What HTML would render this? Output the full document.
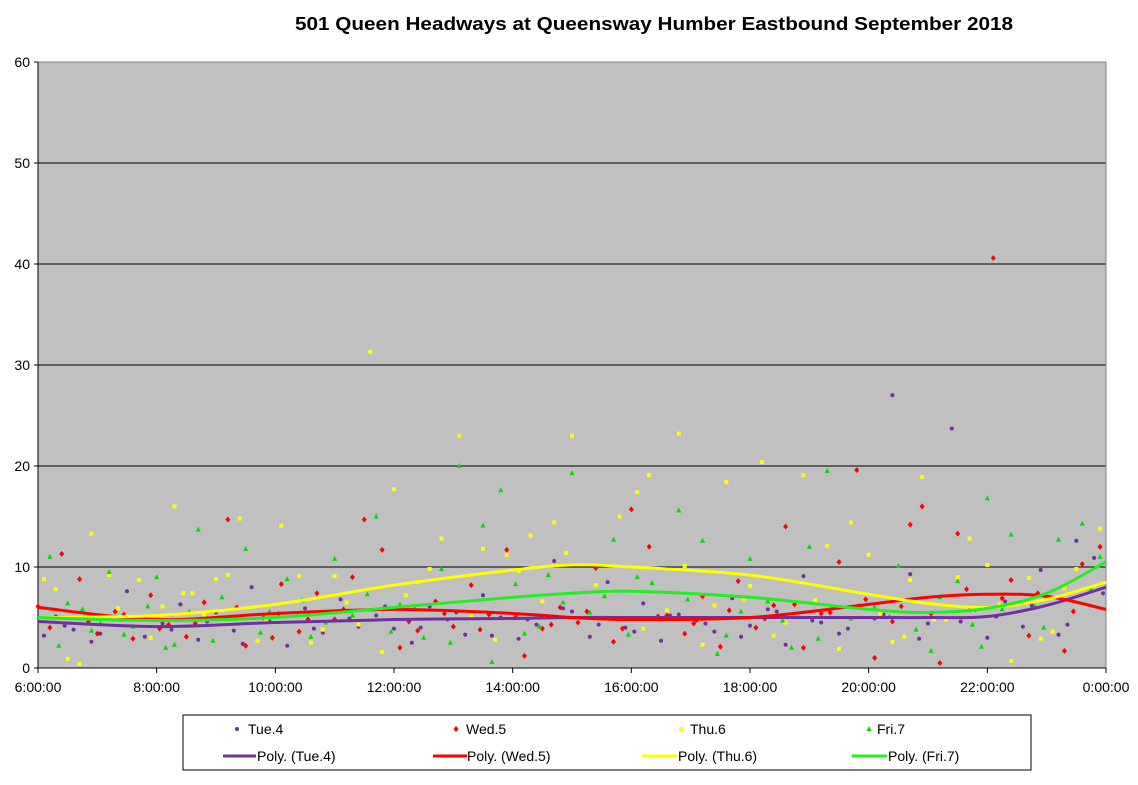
<!DOCTYPE html>
<html><head><meta charset="utf-8"><style>
body{margin:0;background:#fff;}
svg text{font-family:"Liberation Sans",Arial,sans-serif;}
</style></head><body>
<svg id="chart" width="1138" height="780" xmlns="http://www.w3.org/2000/svg">
<rect x="0" y="0" width="1138" height="780" fill="#fff"/>
<text x="654" y="30" text-anchor="middle" font-size="18" font-weight="bold" textLength="718" lengthAdjust="spacingAndGlyphs">501 Queen Headways at Queensway Humber Eastbound September 2018</text>
<rect x="38" y="62" width="1068" height="606" fill="#c0c0c0"/>
<g id="grid"></g>
<g id="axes"></g>
<g id="points"></g>
<g id="trends"></g>
<g>
<rect x="183" y="715" width="848" height="55" fill="#fff" stroke="#000" stroke-width="1"/>
<circle cx="237" cy="729" r="2" fill="#7030a0"/>
<text x="248" y="734" font-size="14">Tue.4</text>
<path d="M456,726 l2.5,3 l-2.5,3 l-2.5,-3z" fill="#ff0000"/>
<text x="466" y="734" font-size="14">Wed.5</text>
<rect x="679" y="727" width="4" height="4" fill="#ffff00"/>
<text x="690" y="734" font-size="14">Thu.6</text>
<path d="M869,726 l2.5,5 l-5,0z" fill="#00dd00"/>
<text x="877" y="734" font-size="14">Fri.7</text>
<line x1="223" y1="756" x2="256" y2="756" stroke="#7030a0" stroke-width="3"/>
<text x="257" y="761" font-size="14">Poly. (Tue.4)</text>
<line x1="433" y1="756" x2="467" y2="756" stroke="#ff0000" stroke-width="3"/>
<text x="467" y="761" font-size="14">Poly. (Wed.5)</text>
<line x1="642" y1="756" x2="677" y2="756" stroke="#ffff00" stroke-width="3"/>
<text x="678" y="761" font-size="14">Poly. (Thu.6)</text>
<line x1="852" y1="756" x2="887" y2="756" stroke="#22ee22" stroke-width="3"/>
<text x="888" y="761" font-size="14">Poly. (Fri.7)</text>
</g>
</svg>
<script>
const yTicks=[0,10,20,30,40,50,60];
const xTickLabels=["6:00:00","8:00:00","10:00:00","12:00:00","14:00:00","16:00:00","18:00:00","20:00:00","22:00:00","0:00:00"];
const xTickHours=[6,8,10,12,14,16,18,20,22,24];
const tueT=[6.1,6.3,6.6,6.9,7.2,7.5,7.8,8.1,8.4,8.7,9.0,9.3,9.6,9.9,10.2,10.5,10.8,11.1,11.4,11.7,12.0,12.3,12.6,12.9,13.2,13.5,13.8,14.1,14.4,14.7,15.0,15.3,15.6,15.9,16.2,16.5,16.8,17.1,17.4,17.7,18.0,18.3,18.6,18.9,19.2,19.5,19.8,20.1,20.4,20.7,21.0,21.4,21.7,22.0,22.3,22.6,22.9,23.2,23.5,23.8,6.45,7.05,7.65,8.25,8.85,9.45,10.05,10.65,11.25,11.85,12.45,13.05,13.65,14.25,14.85,15.45,16.05,16.65,17.25,17.85,18.45,19.05,19.65,20.25,20.85,21.55,22.15,22.75,23.35,23.95];
const tueV=[3.2,5.1,3.8,2.6,4.9,7.6,3.1,4.4,6.3,2.8,5.5,3.7,8.0,4.6,2.2,5.9,3.5,6.8,4.1,5.2,3.9,2.5,6.1,4.8,3.3,7.2,5.0,2.9,4.3,10.6,5.6,3.1,8.5,4.0,6.4,2.7,5.3,4.7,3.6,6.9,4.2,5.8,2.3,9.1,4.5,3.4,6.0,4.9,27.0,9.3,4.4,23.7,5.7,3.0,6.6,4.1,9.7,3.3,12.6,10.9,4.2,3.4,5.0,3.8,4.6,2.4,5.4,3.9,4.9,6.1,4.0,5.5,3.2,4.8,5.9,4.3,3.6,5.2,4.4,3.1,5.6,4.7,3.9,5.3,2.9,4.6,5.1,6.2,4.3,7.4];
const wedT=[6.0,6.4,6.7,7.0,7.3,7.6,7.9,8.2,8.5,8.8,9.2,9.5,9.8,10.1,10.4,10.7,11.0,11.3,11.5,11.8,12.1,12.4,12.7,13.0,13.3,13.6,13.9,14.2,14.5,14.8,15.1,15.4,15.7,16.0,16.3,16.6,16.9,17.2,17.5,17.8,18.1,18.4,18.6,18.9,19.2,19.5,19.8,20.1,20.4,20.7,20.9,21.2,21.5,21.8,22.1,22.4,22.7,23.0,23.3,23.6,23.9,6.2,6.85,7.45,8.05,8.65,9.35,9.95,10.55,11.15,12.25,12.85,13.45,14.05,14.65,15.25,15.85,16.45,17.05,17.65,18.25,18.75,19.35,19.95,20.55,21.05,21.65,22.25,22.85,23.45];
const wedV=[6.1,11.3,8.8,3.4,5.6,2.9,7.2,4.3,3.1,6.5,14.7,2.2,5.0,8.3,3.6,7.4,4.8,9.0,14.7,11.7,2.0,3.7,6.6,4.1,8.2,5.3,11.7,1.2,3.9,6.0,4.5,9.9,2.6,15.7,12.0,5.2,3.4,7.1,2.1,8.6,4.0,6.2,14.0,2.0,5.4,10.5,19.6,1.0,4.6,14.2,16.0,0.5,13.3,5.8,40.6,8.7,3.2,6.9,1.7,10.3,12.0,4.0,4.6,5.3,3.9,4.4,6.0,3.0,4.8,5.8,4.6,5.4,3.8,5.0,4.3,5.6,3.9,5.1,4.4,5.7,4.9,6.3,5.5,6.8,6.1,5.4,7.8,6.9,7.4,5.6];
const thuT=[6.1,6.5,6.9,7.2,7.5,7.9,8.3,8.6,9.0,9.4,9.7,10.1,10.4,10.8,11.2,11.6,12.0,12.4,12.8,13.1,13.5,13.9,14.3,14.7,15.0,15.4,15.8,16.1,16.3,16.6,16.8,17.2,17.6,17.9,18.2,18.6,18.9,19.3,19.7,20.0,20.4,20.7,20.9,21.3,21.7,22.0,22.4,22.7,23.1,23.5,23.9,6.3,6.7,7.35,7.7,8.1,8.45,8.8,9.2,9.85,10.6,11.0,11.4,11.8,12.2,12.6,13.3,13.7,14.1,14.5,14.9,15.6,16.2,16.9,17.4,18.0,18.4,19.1,19.5,20.2,20.6,21.1,21.5,22.2,22.9,23.3];
const thuV=[8.8,0.9,13.3,9.2,5.1,3.0,16.0,7.4,8.8,14.8,2.7,14.1,9.1,3.8,6.5,31.3,17.7,8.5,12.8,23.0,11.8,11.2,13.1,14.4,23.0,8.2,15.0,17.4,19.1,5.7,23.2,2.3,18.4,6.8,20.4,4.5,19.1,12.1,14.4,11.2,2.6,8.7,18.9,4.8,12.8,10.2,0.7,8.9,3.6,9.8,13.8,7.8,0.4,5.9,8.7,6.1,7.4,5.3,9.2,4.7,2.5,9.1,4.3,1.6,7.2,9.8,5.2,2.8,9.6,6.6,11.4,7.6,3.9,10.1,6.2,8.1,3.2,6.7,1.9,5.4,3.1,4.8,9.0,6.3,2.9,7.9];
const friT=[6.2,6.5,6.9,7.2,7.6,8.0,8.3,8.7,9.1,9.5,9.9,10.2,10.6,11.0,11.3,11.7,12.1,12.5,12.8,13.1,13.5,13.8,14.2,14.6,15.0,15.3,15.7,16.1,16.5,16.8,17.2,17.6,18.0,18.3,18.7,19.0,19.3,19.7,20.1,20.5,20.8,21.2,21.5,21.9,22.0,22.4,22.8,23.2,23.6,23.9,6.35,6.75,7.05,7.45,7.85,8.15,8.55,8.95,9.35,9.75,10.45,10.85,11.55,11.95,12.35,12.95,13.65,14.05,14.45,14.85,15.55,15.95,16.35,16.95,17.45,17.85,18.55,19.15,19.85,20.35,21.05,21.75,22.25,22.95,23.75];
const friV=[11.0,6.4,3.7,9.5,4.1,9.0,2.3,13.7,7.0,11.8,5.6,8.8,3.1,10.8,5.2,15.0,6.3,3.0,9.8,20.0,14.1,17.6,3.4,9.2,19.3,5.5,12.7,9.0,4.8,15.6,12.6,3.2,10.8,6.6,2.0,12.0,19.5,4.9,6.0,10.1,3.8,7.0,8.6,2.1,16.8,13.2,6.1,12.7,14.3,11.0,2.2,5.8,4.4,3.3,6.1,2.0,5.6,2.7,4.9,3.5,6.7,4.5,7.3,3.6,5.9,2.5,0.6,8.3,4.1,6.5,7.1,3.3,8.4,6.8,1.4,5.6,4.7,2.9,6.2,5.1,1.7,4.3,5.8,4.0,7.8];
const trendT=[6,8,10,12,14,15,16,18,20,21,22,23,24];
const tueTrend=[4.6,4.1,4.5,4.8,4.9,5.0,5.0,5.0,5.0,5.0,5.1,6.2,8.0];
const wedTrend=[6.0,4.8,5.4,5.8,5.4,5.0,4.8,5.0,6.3,7.0,7.3,7.1,5.8];
const thuTrend=[5.0,5.2,6.3,8.2,9.7,10.2,10.0,9.2,7.3,6.4,6.0,6.8,8.5];
const friTrend=[5.0,4.7,5.0,6.0,7.0,7.4,7.6,7.0,5.8,5.5,5.9,7.4,10.5];
const NS="http://www.w3.org/2000/svg";
const X0=38,X1=1106,Y0=668,Y1=62;
const xs=h=>X0+(h-6)/18*(X1-X0);
const ys=v=>Y0-v/60*(Y0-Y1);
function mk(tag,parent,attrs){const e=document.createElementNS(NS,tag);for(const k in attrs)e.setAttribute(k,attrs[k]);parent.appendChild(e);return e;}
const grid=document.getElementById('grid'),axes=document.getElementById('axes');
yTicks.forEach(t=>{
  if(t>0){const l=mk('line',grid,{x1:X0,x2:X1,y1:ys(t),y2:ys(t),stroke:'#000','stroke-width':1});
  
  }
  const tx=mk('text',axes,{x:X0-8,y:ys(t)+5,'text-anchor':'end','font-size':14});tx.textContent=t;
  
  
  mk('line',axes,{x1:X0-4,x2:X0,y1:ys(t),y2:ys(t),stroke:'#000'});
});
mk('rect',axes,{x:X0,y:Y1,width:X1-X0,height:Y0-Y1,fill:'none',stroke:'#808080'});
mk('line',axes,{x1:X0,x2:X1,y1:Y0,y2:Y0,stroke:'#000'});
mk('line',axes,{x1:X0,x2:X0,y1:Y1,y2:Y0,stroke:'#000'});
xTickHours.forEach((h,i)=>{
  mk('line',axes,{x1:xs(h),x2:xs(h),y1:Y0,y2:Y0+5,stroke:'#000'});
  const tx=mk('text',axes,{x:xs(h),y:Y0+24,'text-anchor':'middle','font-size':14});tx.textContent=xTickLabels[i];
  
  
});
const pts=document.getElementById('points');
function scatter(T,V,shape,color,name){
  T.forEach((t,i)=>{const x=xs(t),y=ys(V[i]);let e;
    if(shape==='c')e=mk('circle',pts,{cx:x,cy:y,r:2,fill:color});
    else if(shape==='d')e=mk('path',pts,{d:`M${x},${y-3} l2.5,3 l-2.5,3 l-2.5,-3z`,fill:color});
    else if(shape==='s')e=mk('rect',pts,{x:x-2,y:y-2,width:4,height:4,fill:color});
    else e=mk('path',pts,{d:`M${x},${y-3} l2.5,5 l-5,0z`,fill:color});
    
    
  });
}
scatter(tueT,tueV,'c','#7030a0','point-tue');
scatter(wedT,wedV,'d','#ff0000','point-wed');
scatter(thuT,thuV,'s','#ffff00','point-thu');
scatter(friT,friV,'t','#00dd00','point-fri');
const tr=document.getElementById('trends');
function smooth(V){const P=trendT.map((t,i)=>[xs(t),ys(V[i])]);
  let d='M'+P[0][0]+','+P[0][1];
  for(let i=0;i<P.length-1;i++){const p0=P[Math.max(0,i-1)],p1=P[i],p2=P[i+1],p3=P[Math.min(P.length-1,i+2)];
    d+=` C${p1[0]+(p2[0]-p0[0])/6},${p1[1]+(p2[1]-p0[1])/6} ${p2[0]-(p3[0]-p1[0])/6},${p2[1]-(p3[1]-p1[1])/6} ${p2[0]},${p2[1]}`;}
  return d;}
[[tueTrend,'#7030a0','trend-tue'],[wedTrend,'#ff0000','trend-wed'],[thuTrend,'#ffff00','trend-thu'],[friTrend,'#22ee22','trend-fri']].forEach(([V,c,n])=>{
  const p=mk('path',tr,{d:smooth(V),fill:'none',stroke:c,'stroke-width':3});
  
  
});
</script>
</body></html>
